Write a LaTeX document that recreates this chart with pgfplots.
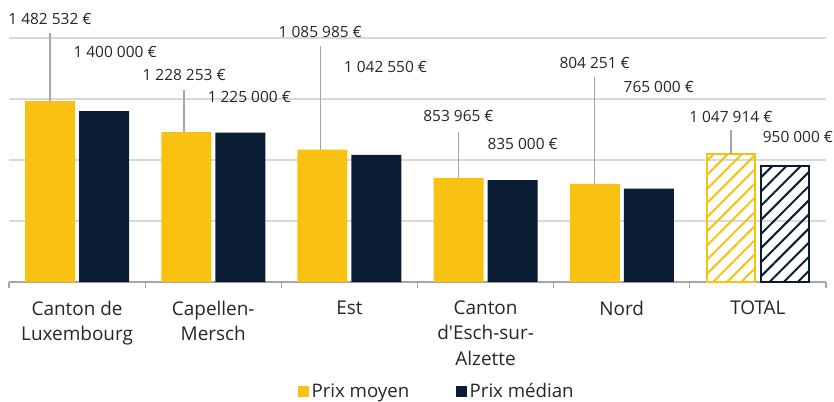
\documentclass[border=0pt]{standalone}
\usepackage{pgfplots}
\pgfplotsset{compat=1.18}
\usetikzlibrary{patterns.meta,calc}
\usepackage{fontspec}
\setmainfont{Open Sans}
\definecolor{cyel}{RGB}{249,193,18}
\definecolor{cnavy}{RGB}{10,28,51}
\definecolor{cgrid}{RGB}{217,217,217}
\definecolor{cax}{RGB}{166,166,166}
\begin{document}
\begin{tikzpicture}
\begin{axis}[
  name=ax,
  scale only axis,
  width=612.75pt, height=211.5pt,
  xmin=-0.5, xmax=5.5,
  ymin=0, ymax=2311475,
  clip=false,
  axis x line*=bottom,
  axis y line*=left,
  y axis line style={draw=none},
  x axis line style={draw=cax, line width=0.9pt},
  ytick={0,500000,1000000,1500000,2000000},
  yticklabels={},
  ytick style={draw=none},
  ymajorgrids,
  grid style={draw=cgrid, line width=1pt},
  xtick={0,1,2,3,4,5},
  xticklabels={{Canton de\\Luxembourg},{Capellen-\\Mersch},{Est},{Canton\\d\textquotesingle Esch-sur-\\Alzette},{Nord},{TOTAL}},
  major tick length=0pt,
  minor xtick={-0.5,0.5,1.5,2.5,3.5,4.5,5.5},
  minor tick length=4.5pt,
  tick align=outside,
  minor tick style={draw=cax, line width=0.8pt},
  xticklabel style={align=center, font=\fontsize{14.2}{19}\selectfont, color=black!85, yshift=-10.5pt},
  ybar, bar width=37.5pt,
  legend style={at={(axis description cs:0.524,-0.388)}, anchor=center, draw=none, fill=none,
    legend columns=2, font=\fontsize{14}{16}\selectfont, text=black!85,
    /tikz/every even column/.append style={column sep=33pt}},
  legend image code/.code={\fill[#1] (0pt,-4.1pt) rectangle (8.25pt,4.1pt);},
]
\addplot[fill=cyel, draw=none, bar shift=-20.25pt] coordinates {(0,1482532) (1,1228253) (2,1085985) (3,853965) (4,804251)};
\addlegendentry{Prix moyen}
\addplot[fill=cnavy, draw=none, bar shift=20.25pt] coordinates {(0,1400000) (1,1225000) (2,1042550) (3,835000) (4,765000)};
\addlegendentry{Prix médian}
\addplot[forget plot, draw=cyel, line width=1.5pt, fill=white, pattern={Lines[angle=45, distance=7.5pt, line width=1.5pt]}, pattern color=cyel, bar width=36pt, bar shift=-20.25pt] coordinates {(5,1047914)};
\addplot[forget plot, draw=cnavy, line width=1.5pt, fill=white, pattern={Lines[angle=45, distance=7.5pt, line width=1.5pt]}, pattern color=cnavy, bar width=36pt, bar shift=20.25pt] coordinates {(5,950000)};
% leader lines
\draw[cax, line width=1.1pt] (axis cs:-0.199,2041000) -- (axis cs:-0.199,1482532);
\draw[cax, line width=1.1pt] (axis cs:0.786,1574000) -- (axis cs:0.786,1228253);
\draw[cax, line width=1.1pt] (axis cs:1.786,1934000) -- (axis cs:1.786,1085985);
\draw[cax, line width=1.1pt] (axis cs:2.801,1230000) -- (axis cs:2.801,853965);
\draw[cax, line width=1.1pt] (axis cs:3.801,1680000) -- (axis cs:3.801,804251);
\draw[cax, line width=1.1pt] (axis cs:4.801,1246000) -- (axis cs:4.801,1047914);
% labels
\tikzset{lbl/.style={font=\fontsize{11.6}{14}\selectfont, text=black!85, inner sep=0pt, anchor=center}}
\node[lbl] at (axis cs:-0.199,2152000) {1 482 532 €};
\node[lbl] at (axis cs:0.279,1885000) {1 400 000 €};
\node[lbl] at (axis cs:0.786,1697000) {1 228 253 €};
\node[lbl] at (axis cs:1.265,1516000) {1 225 000 €};
\node[lbl] at (axis cs:1.786,2049000) {1 085 985 €};
\node[lbl] at (axis cs:2.265,1762000) {1 042 550 €};
\node[lbl] at (axis cs:2.801,1361000) {853 965 €};
\node[lbl] at (axis cs:3.272,1131000) {835 000 €};
\node[lbl] at (axis cs:3.801,1795000) {804 251 €};
\node[lbl] at (axis cs:4.272,1598000) {765 000 €};
\node[lbl] at (axis cs:4.801,1352000) {1 047 914 €};
\node[lbl] at (axis cs:5.294,1189000) {950 000 €};
\coordinate (bl) at (rel axis cs:0,0);
\end{axis}
\pgfresetboundingbox
\path[use as bounding box] ($(bl)+(-6.75pt,-89.25pt)$) rectangle ($(bl)+(618.75pt,211.5pt)$);
\end{tikzpicture}
\end{document}
